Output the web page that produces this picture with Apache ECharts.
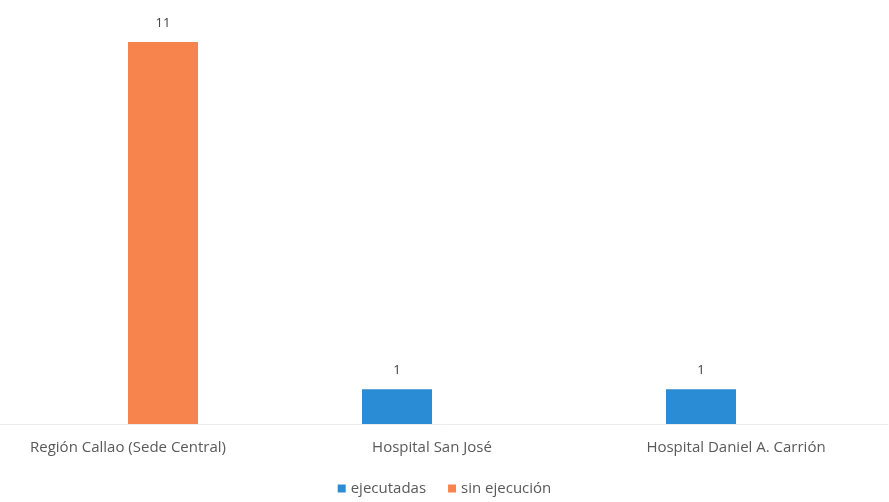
<!DOCTYPE html>
<html>
<head>
<meta charset="utf-8">
<script src="https://cdn.jsdelivr.net/npm/echarts@6/dist/echarts.min.js"></script>
<style>
html,body{margin:0;padding:0;background:#fff;}
#chart{width:889px;height:502px;}
</style>
</head>
<body>
<div id="chart"></div>
<script>
var categories = ['Región Callao (Sede Central)', 'Hospital San José', 'Hospital Daniel A. Carrión'];
var ejecutadas = [null, 1, 1];
var sinEjecucion = [11, null, null];
var seriesNames = ['ejecutadas', 'sin ejecución'];

var chart = echarts.init(document.getElementById('chart'));
var font = '"Open Sans", sans-serif';
chart.setOption({
  backgroundColor: '#ffffff',
  animation: false,
  textStyle: { fontFamily: font },
  grid: { left: -24, width: 912, top: 42, bottom: 78, containLabel: false, outerBoundsMode: 'none' },
  legend: {
    data: seriesNames,
    bottom: 1,
    left: 'center',
    icon: 'rect',
    itemWidth: 8,
    itemHeight: 8,
    itemGap: 22,
    textStyle: { color: '#595959', fontSize: 15, fontFamily: font }
  },
  xAxis: {
    type: 'category',
    data: categories,
    axisLine: { show: true, lineStyle: { color: '#ececec' } },
    axisTick: { show: false },
    axisLabel: { color: '#595959', fontSize: 15, margin: 16, fontFamily: font }
  },
  yAxis: {
    type: 'value',
    min: 0,
    max: 11,
    show: false,
    splitLine: { show: false }
  },
  series: [
    {
      name: seriesNames[0],
      type: 'bar',
      data: ejecutadas,
      barWidth: 70,
      barGap: '0%',
      itemStyle: { color: '#2b8cd6' },
      label: { show: true, position: 'top', distance: 12, color: '#404040', fontSize: 13, fontFamily: font }
    },
    {
      name: seriesNames[1],
      type: 'bar',
      data: sinEjecucion,
      barWidth: 70,
      barGap: '0%',
      itemStyle: { color: '#f7844c' },
      label: { show: true, position: 'top', distance: 12, color: '#404040', fontSize: 13, fontFamily: font }
    }
  ]
});
</script>
</body>
</html>
